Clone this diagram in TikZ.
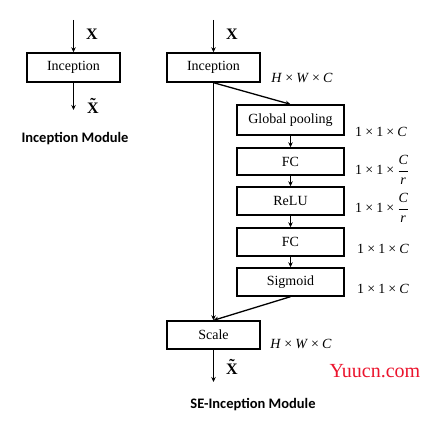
\documentclass[tikz,border=0pt]{standalone}
\usepackage{amsmath}
\usepackage{fontspec}
\setmainfont{Liberation Serif}
\newfontfamily\labfont{Carlito}
\usetikzlibrary{arrows.meta}
\tikzset{
  blk/.style={draw, line width=1.4pt, minimum width=93pt, minimum height=29pt, inner sep=0pt, font=\fontsize{14}{16}\selectfont},
  sblk/.style={blk, minimum width=107pt},
  con/.style={line width=1.3pt, -{Stealth[length=5pt,width=4.5pt]}},
  lbl/.style={font=\fontsize{14}{16}\selectfont, inner sep=0pt},
  vlab/.style={font=\fontsize{16}{18}\selectfont\bfseries, inner sep=0pt},
  title/.style={font=\labfont\bfseries\fontsize{14.5}{16}\selectfont, inner sep=0pt}
}
\newcommand{\mymul}{\hspace{0.22em}\texttimes\hspace{0.22em}}
\newcommand{\myfrac}{$\genfrac{}{}{0.5pt}{0}{\mbox{\itshape C}}{\mbox{\itshape r}}$}
\newcommand{\xtil}{\ooalign{X\crcr\hidewidth\raisebox{0.22em}{\char"02DC}\hidewidth\crcr}}
\begin{document}
\begin{tikzpicture}[x=1pt,y=-1pt]
\useasboundingbox (0,0) rectangle (437,427);
% left module
\node[blk] (inc1) at (73.5,67.5) {Inception};
\coordinate (in1) at (73.5,20);
\coordinate (out1) at (73.5,110);
\draw[con] (in1) -- (inc1.north);
\draw[con] (inc1.south) -- (out1);
\node[vlab] (x1) at (92,34) {X};
\node[vlab] (xt1) at (93,108) {\xtil};
\node[title] (t1) at (75,139) {Inception Module};
% right module
\node[blk] (inc2) at (213.5,67.5) {Inception};
\coordinate (in2) at (213.5,20);
\draw[con] (in2) -- (inc2.north);
\node[vlab] (x2) at (232,34) {X};
\node[lbl] (d0) at (302,78) {\textit{H}\mymul\textit{W}\mymul\textit{C}};
\node[sblk, minimum height=30pt] (gp) at (290.5,120) {Global pooling};
\node[sblk, minimum height=27pt] (fc1) at (290.5,161.5) {FC};
\node[sblk, minimum height=28pt] (relu) at (290.5,201) {ReLU};
\node[sblk, minimum height=28pt] (fc2) at (290.5,242) {FC};
\node[sblk, minimum height=28pt] (sig) at (290.5,282) {Sigmoid};
\node[blk, minimum height=28pt] (scale) at (213.5,335) {Scale};
\draw[con] (inc2.south) -- (gp.north);
\draw[con] (gp) -- (fc1);
\draw[con] (fc1) -- (relu);
\draw[con] (relu) -- (fc2);
\draw[con] (fc2) -- (sig);
\draw[con] (inc2.south) -- (scale.north);
\draw[con] (sig.south) -- (scale.north);
\coordinate (out2) at (213.5,382);
\draw[con] (scale.south) -- (out2);
\node[vlab] (xt2) at (232,369) {\xtil};
\node[lbl, anchor=west] (d1) at (355,132) {1\mymul1\mymul\textit{C}};
\node[lbl, anchor=west] (d2) at (355,170) {1\mymul1\mymul\myfrac};
\node[lbl, anchor=west] (d3) at (355,208) {1\mymul1\mymul\myfrac};
\node[lbl, anchor=west] (d4) at (357,249) {1\mymul1\mymul\textit{C}};
\node[lbl, anchor=west] (d5) at (357,289) {1\mymul1\mymul\textit{C}};
\node[lbl] (d6) at (301,344) {\textit{H}\mymul\textit{W}\mymul\textit{C}};
\node[font=\fontsize{20}{22}\selectfont, text={rgb,255:red,235;green,20;blue,45}, inner sep=0pt] (wm) at (375,371) {Yuucn.com};
\node[title] (t2) at (253,405) {SE-Inception Module};
\end{tikzpicture}
\end{document}
